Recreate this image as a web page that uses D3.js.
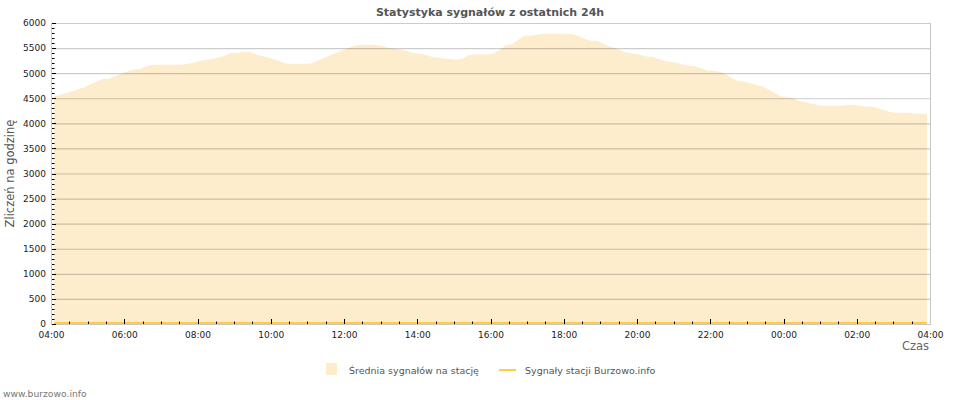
<!DOCTYPE html>
<html><head><meta charset="utf-8">
<script src="https://cdn.jsdelivr.net/npm/d3@7"></script>
<style>
html,body{margin:0;padding:0;background:#fff;}
svg{display:block;font-family:"DejaVu Sans",Verdana,sans-serif;}
</style></head>
<body><svg id="c" width="980" height="400"></svg>
<script>
const chartTitle = "Statystyka sygnałów z ostatnich 24h";
const yTitle = "Zliczeń na godzinę";
const xTitle = "Czas";
const seriesNames = ["Średnia sygnałów na stację", "Sygnały stacji Burzowo.info"];
const startTime = "2024-01-01T04:05:00";
const stepMinutes = 10;
const avgSignals = [
 4536,4570,4604,4640,4684,4716,4790,4830,4883,4890,4945,4985,5035,5068,5085,5135,
 5168,5168,5168,5168,5168,5175,5188,5215,5248,5268,5288,5314,5354,5401,5401,5427,
 5420,5370,5341,5310,5275,5240,5188,5188,5188,5188,5195,5240,5290,5340,5390,5445,
 5490,5535,5560,5567,5567,5560,5530,5495,5485,5467,5435,5395,5387,5360,5320,5307,
 5288,5280,5268,5290,5360,5374,5374,5374,5395,5460,5553,5580,5660,5740,5753,5760,
 5786,5786,5786,5786,5786,5775,5730,5680,5646,5640,5580,5530,5495,5440,5407,5387,
 5367,5330,5327,5280,5248,5225,5208,5174,5148,5140,5100,5048,5048,5030,4985,4910,
 4849,4835,4803,4770,4740,4680,4613,4540,4524,4504,4450,4430,4390,4370,4351,4351,
 4351,4351,4370,4370,4351,4331,4331,4300,4260,4220,4211,4211,4211,4191,4191,4191
];
const stationSignals = [
 0,0,0,0,0,0,0,0,0,0,0,0,0,0,0,0,0,0,0,0,0,0,0,0,0,0,0,0,0,0,0,0,0,0,0,0,
 0,0,0,0,0,0,0,0,0,0,0,0,0,0,0,0,0,0,0,0,0,0,0,0,0,0,0,0,0,0,0,0,0,0,0,0,
 0,0,0,0,0,0,0,0,0,0,0,0,0,0,0,0,0,0,0,0,0,0,0,0,0,0,0,0,0,0,0,0,0,0,0,0,
 0,0,0,0,0,0,0,0,0,0,0,0,0,0,0,0,0,0,0,0,0,0,0,0,0,0,0,0,0,0,0,0,0,0,0,0
];
const xDomain = ["2024-01-01T04:00:00", "2024-01-02T04:00:00"];
const yDomain = [0, 6000];
const yTickValues = [0,500,1000,1500,2000,2500,3000,3500,4000,4500,5000,5500,6000];

const svg = d3.select("#c");
const L = 51, R = 930, T = 23, B = 324;
const x = d3.scaleTime().domain(xDomain.map(d => new Date(d))).range([L, R]);
const y = d3.scaleLinear().domain(yDomain).range([B, T]);
const t0 = new Date(startTime);
const times = avgSignals.map((_, i) => d3.timeMinute.offset(t0, i * stepMinutes));

// area
const area = d3.area().x((d, i) => x(times[i])).y0(y(0)).y1(d => y(d));
svg.append("path").datum(avgSignals).attr("d", area).attr("fill", "#FDEDCC");

// gridlines
svg.append("g").selectAll("line").data(yTickValues.filter(v => v > 0)).join("line")
  .attr("x1", L).attr("x2", R).attr("y1", d => y(d) + 0.5).attr("y2", d => y(d) + 0.5)
  .attr("stroke", "rgba(0,0,0,0.2)").attr("stroke-width", 1.2);

// station line
const line = d3.line().x((d, i) => x(times[i])).y(d => y(d) - 1);
svg.append("path").datum(stationSignals).attr("d", line).attr("fill", "none")
  .attr("stroke", "#FFCC44").attr("stroke-width", 2);

// frame
svg.append("line").attr("x1", L + 0.5).attr("x2", L + 0.5).attr("y1", T).attr("y2", B + 1).attr("stroke", "#c8c8c8");
svg.append("line").attr("x1", R + 0.5).attr("x2", R + 0.5).attr("y1", T).attr("y2", B + 1).attr("stroke", "#c8c8c8");
svg.append("line").attr("x1", L).attr("x2", R + 1).attr("y1", B + 0.5).attr("y2", B + 0.5).attr("stroke", "#c8c8c8");

// y minor ticks
const yMinor = d3.range(0, 6001, 100);
svg.append("g").selectAll("line").data(yMinor).join("line")
  .attr("x1", L + 1).attr("x2", d => L + 1 + (d % 500 === 0 ? 4 : 2.5))
  .attr("y1", d => Math.round(y(d)) + 0.5).attr("y2", d => Math.round(y(d)) + 0.5)
  .attr("stroke", "#000").attr("stroke-width", 1);

// y labels
const yAxis = d3.axisLeft(y).tickValues(yTickValues).tickFormat(d3.format("d")).tickSize(0).tickPadding(5);
const gy = svg.append("g").attr("transform", `translate(${L},0)`).call(yAxis);
gy.select(".domain").remove();
gy.selectAll("text").attr("font-size", 9).attr("fill", "#222").attr("font-family", "DejaVu Sans");

// x ticks
const xMinor = d3.timeMinute.every(30).range(x.domain()[0], x.domain()[1]).filter(d => +d !== +x.domain()[0]);
svg.append("g").selectAll("line").data(xMinor).join("line")
  .attr("x1", d => Math.round(x(d)) + 0.5).attr("x2", d => Math.round(x(d)) + 0.5)
  .attr("y1", B).attr("y2", d => B - (d.getMinutes() === 0 && d.getHours() % 2 === 0 ? 5 : 2.5))
  .attr("stroke", "#000").attr("stroke-width", 1);

const xAxis = d3.axisBottom(x).ticks(d3.timeHour.every(2)).tickFormat(d3.timeFormat("%H:%M")).tickSize(0).tickPadding(0);
const gx = svg.append("g").attr("transform", `translate(0,${B})`).call(xAxis);
gx.select(".domain").remove();
gx.selectAll("text").attr("font-size", 9).attr("fill", "#222").attr("font-family", "DejaVu Sans")
  .attr("y", 13.5).attr("dy", null);

// titles
svg.append("text").attr("x", 490).attr("y", 15.5).attr("text-anchor", "middle")
  .attr("font-size", 11).attr("font-weight", "bold").attr("fill", "#555").text(chartTitle);
svg.append("text").attr("transform", `translate(13.5,${(T + B) / 2}) rotate(-90)`).attr("text-anchor", "middle")
  .attr("font-size", 11.5).attr("fill", "#555").text(yTitle);
svg.append("text").attr("x", 929).attr("y", 350).attr("text-anchor", "end")
  .attr("font-size", 11.5).attr("fill", "#666").text(xTitle);

// legend
svg.append("rect").attr("x", 326).attr("y", 363).attr("width", 11).attr("height", 12).attr("fill", "#FDEDCC");
svg.append("text").attr("x", 349).attr("y", 374).attr("font-size", 9.5).attr("fill", "#555").text(seriesNames[0]);
svg.append("line").attr("x1", 499).attr("x2", 516).attr("y1", 370).attr("y2", 370).attr("stroke", "#FFCC44").attr("stroke-width", 2);
svg.append("text").attr("x", 525).attr("y", 374).attr("font-size", 9.5).attr("fill", "#555").text(seriesNames[1]);

svg.append("text").attr("x", 3).attr("y", 397).attr("font-size", 9.2).attr("fill", "#777").text("www.burzowo.info");
</script></body></html>
